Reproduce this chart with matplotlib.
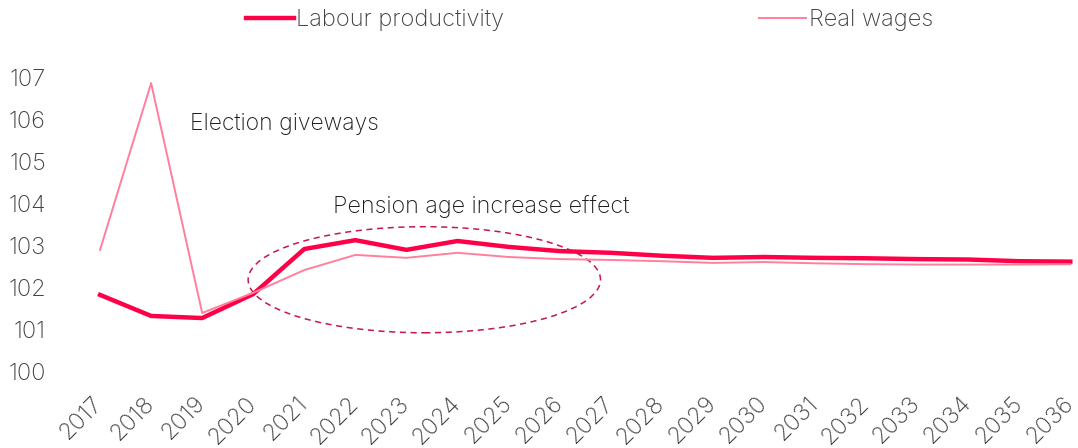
import matplotlib
matplotlib.use("Agg")
import matplotlib.pyplot as plt
from matplotlib.patches import Ellipse

years = [str(y) for y in range(2017, 2037)]
labour_productivity = [101.83, 101.33, 101.28, 101.85, 102.92, 103.13, 102.90, 103.11, 102.97, 102.87,
                       102.83, 102.76, 102.71, 102.73, 102.71, 102.70, 102.68, 102.67, 102.63, 102.62]
real_wages = [102.90, 106.86, 101.40, 101.88, 102.42, 102.78, 102.71, 102.83, 102.73, 102.68,
              102.66, 102.63, 102.59, 102.61, 102.58, 102.56, 102.55, 102.55, 102.55, 102.56]

plt.rcParams['font.family'] = ['Inter', 'DejaVu Sans']
grey = '#404040'

fig = plt.figure(figsize=(10.78, 4.48), dpi=100)
ax = fig.add_axes([0.0786, 0.151, 0.919, 0.733])

x = list(range(len(years)))
ax.plot(x, labour_productivity, color='#FF0048', lw=3.2, label='Labour productivity')
ax.plot(x, real_wages, color='#FF7F9C', lw=1.4, label='Real wages')

# dashed ring round the pension age years
ax.add_patch(Ellipse((6.35, 102.19), 6.9, 2.52, fill=False, edgecolor='#C8174C',
                     lw=1.1, linestyle=(0, (4, 3))))
ax.text(1.76, 105.9, 'Election giveways', fontsize=16.5, color='#1a1a1a', fontweight='light', va='center')
ax.text(4.56, 103.94, 'Pension age increase effect', fontsize=16.8, color='#1a1a1a', fontweight='light', va='center')

ax.set_xlim(-0.3, 19.1)
ax.set_ylim(99.8, 107.6)
ax.set_yticks(range(100, 108))
ax.set_xticks(x)
ax.set_xticklabels(years, rotation=45, ha='right', va='center', rotation_mode='anchor')
for lab in ax.get_xticklabels() + ax.get_yticklabels():
    lab.set_fontsize(17)
    lab.set_color(grey)
    lab.set_fontweight('light')
ax.tick_params(length=0)
ax.tick_params(axis='y', pad=28)
ax.tick_params(axis='x', pad=14)
for s in ax.spines.values():
    s.set_visible(False)

leg = fig.legend(loc='center', bbox_to_anchor=(0.547, 0.955), ncol=2, frameon=False,
                 fontsize=17, handlelength=2.0, handletextpad=0.1, columnspacing=10.8)
for t in leg.get_texts():
    t.set_color(grey)
    t.set_fontweight('light')

fig.savefig('out.png', dpi=100)
